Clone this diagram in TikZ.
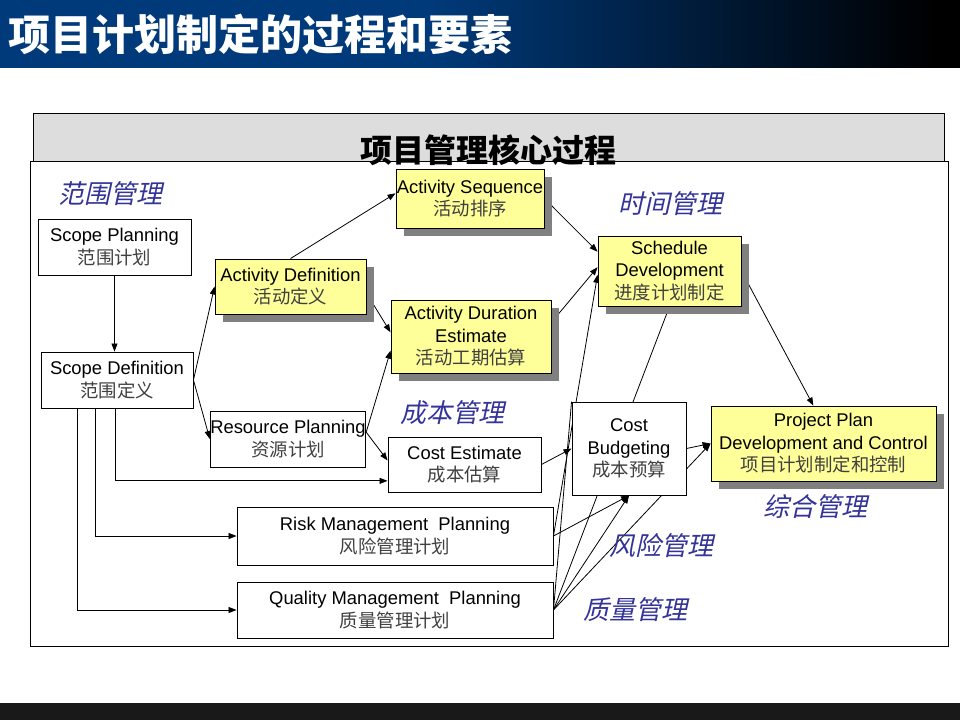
\documentclass[tikz,border=0pt]{standalone}
\usepackage{fontspec}
\setmainfont{Liberation Sans}
\newfontfamily\cjk{Noto Sans CJK SC}
\newfontfamily\cjkit[FakeSlant=0.22]{Noto Sans CJK SC}
\usetikzlibrary{arrows.meta,shadows}
\pgfdeclarelayer{edges}
\pgfsetlayers{edges,main}
\definecolor{titleblue}{RGB}{0,58,122}
\definecolor{areablue}{RGB}{51,51,153}
\definecolor{boxyellow}{RGB}{255,255,153}
\definecolor{headgray}{RGB}{221,221,221}
\newcommand{\zh}[1]{{\cjk\color{black!75}#1}}

\begin{document}
\begin{tikzpicture}[x=1pt,y=-1pt,
  box/.style={draw,line width=0.9pt,fill=white,inner sep=0pt,align=center,
    font=\fontsize{18.4}{22.5}\selectfont},
  hot/.style={box,fill=boxyellow,
    drop shadow={shadow xshift=8pt,shadow yshift=-8pt,fill=black!50,opacity=1}},
  area/.style={font=\cjkit\fontsize{26}{26}\selectfont,text=areablue,inner sep=0pt},
  link/.style={line width=0.8pt,-{Triangle[length=8pt,width=6pt]}}]
\useasboundingbox (0,0) rectangle (960,720);

% title bar and frames
\fill[black] (0,0) rectangle (960,68);
\fill[titleblue] (0,0) rectangle (431,68);
\shade[left color=titleblue,right color=black] (430,-1) rectangle (935,69);
\fill[black!90] (0,703) rectangle (960,720);
\node[font=\cjk\bfseries\fontsize{42}{42}\selectfont,text=white,anchor=west,inner sep=0pt] (title) at (8,34) {项目计划制定的过程和要素};
\fill[white] (0,68) rectangle (960,80);
\draw[fill=headgray,line width=1pt] (33,113) rectangle (944,161);
\draw[line width=1pt] (30,161) rectangle (948,646);
\node[font=\cjk\bfseries\fontsize{32}{32}\selectfont,inner sep=0pt] (core) at (488,150) {项目管理核心过程};

% processes
\node[box,minimum width=153pt,minimum height=56pt] (sp) at (114.5,247) {Scope Planning\\\zh{范围计划}};
\node[box,minimum width=152pt,minimum height=56pt] (sd) at (117,380) {Scope Definition\\\zh{范围定义}};
\node[hot,minimum width=151pt,minimum height=55pt] (ad) at (290.5,286.5) {Activity Definition\\\zh{活动定义}};
\node[hot,minimum width=148pt,minimum height=59pt] (as) at (470,198.5) {Activity Sequence\\\zh{活动排序}};
\node[hot,minimum width=160pt,minimum height=73pt] (adur) at (471,336.5) {Activity Duration\\Estimate\\\zh{活动工期估算}};
\node[hot,minimum width=143pt,minimum height=70pt] (sch) at (669.5,271) {Schedule\\Development\\\zh{进度计划制定}};
\node[box,minimum width=152pt,minimum height=56pt] (rp) at (288,439) {Resource Planning\\\zh{资源计划}};
\node[box,minimum width=153pt,minimum height=55pt] (ce) at (464.5,464.5) {Cost Estimate\\\zh{成本估算}};
\node[box,minimum width=114pt,minimum height=93pt] (cb) at (629,448.5) {Cost\\Budgeting\\\zh{成本预算}};
\node[hot,minimum width=225pt,minimum height=75pt] (pp) at (823.5,443.5) {Project Plan\\Development and Control\\\zh{项目计划制定和控制}};
\node[box,minimum width=316pt,minimum height=58pt] (rm) at (395,536) {Risk Management\ \ Planning\\\zh{风险管理计划}};
\node[box,minimum width=316pt,minimum height=56pt] (qm) at (395,610) {Quality Management\ \ Planning\\\zh{质量管理计划}};

% knowledge areas
\node[area] (scopearea) at (110,194) {范围管理};
\node[area] (timearea) at (670,204) {时间管理};
\node[area] (costarea) at (452,413) {成本管理};
\node[area] (riskarea) at (661,546) {风险管理};
\node[area] (qualarea) at (635,610) {质量管理};
\node[area] (intarea) at (815,507) {综合管理};

\begin{pgfonlayer}{edges}
\draw[link] (sp.south) -- (sp.south |- sd.north);
\draw[link] (sd.east) -- (ad.west);
\draw[link] (sd.east) -- (rp.west);
\draw[link] (ad.north) -- (as.176);
\draw[link] (ad.-5) -- (adur.177);
\draw[link] (rp.5) -- (adur.190);
\draw[link] (rp.5) -- (ce.177);
\draw[link] (as.east) -- (sch.165);
\draw[link] (adur.10) -- (sch.177);
\draw[link] (rm.east) -- (sch.183);
\draw[line width=0.8pt] (qm.east) -- (cb.north west);
\draw[line width=0.8pt] (qm.east) -- (sch.south);
\draw[link] (ce.east) -- (cb.west);
\draw[link] (rm.east) -- (cb.south);
\draw[link] (qm.east) -- (cb.south);
\draw[link] (qm.east) -- (pp.west);
\draw[link] (cb.east) -- (pp.west);
\draw[link] (sch.east) -- (pp.105);
\draw[link] ([xshift=75pt]sd.south west) |- (ce.192);
\draw[link] ([xshift=55pt]sd.south west) |- (rm.west);
\draw[link] ([xshift=37pt]sd.south west) |- (qm.west);
\end{pgfonlayer}
\end{tikzpicture}
\end{document}
